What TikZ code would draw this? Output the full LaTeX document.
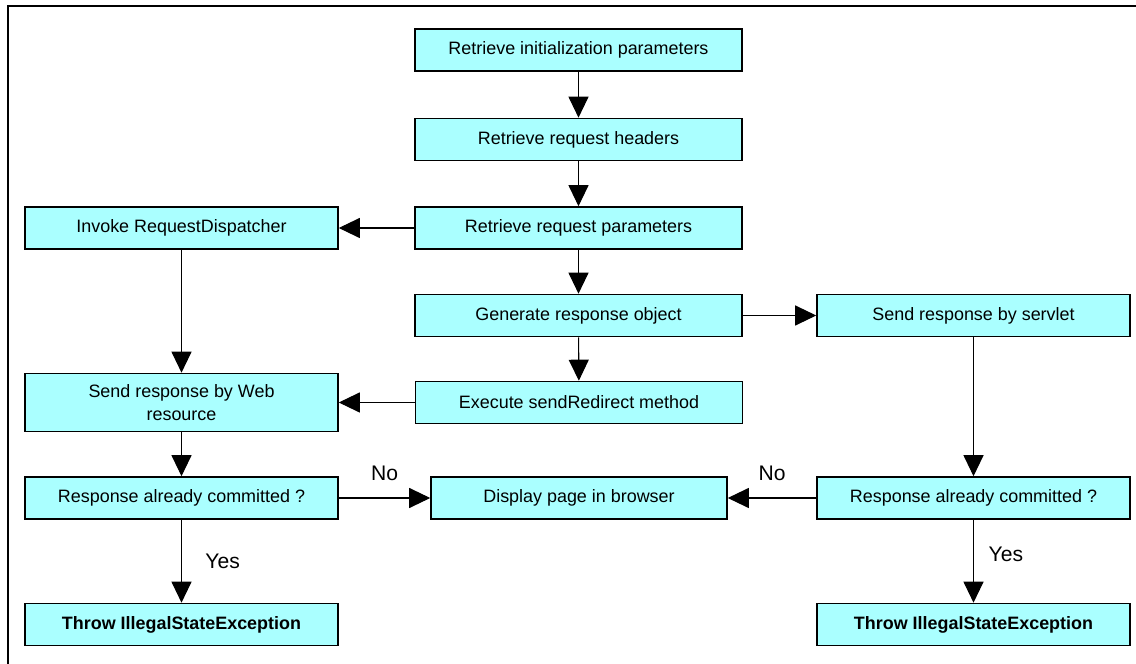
\documentclass[tikz,border=0pt]{standalone}
\usepackage{fontspec}
\setmainfont{Liberation Sans}
\usepackage{tikz}
\usetikzlibrary{arrows.meta}
\usetikzlibrary{calc}

\definecolor{boxcyan}{HTML}{AAFFFF}

\begin{document}
\begin{tikzpicture}[auto, line width=0.6pt,
        step_style/.style={rectangle,draw=black,line width=0.9pt,fill=boxcyan,minimum width=6.54cm,minimum height=0.84cm,inner sep=2pt,align=center,font=\fontsize{10.2}{13}\selectfont},
        side_style/.style={step_style,minimum width=6.26cm},
        throw_style/.style={side_style,font=\fontsize{10.2}{13}\selectfont\bfseries},
        edge_style/.style={draw=black, line width=0.6pt,-{Triangle[width=0.4cm,length=0.42cm]}},
        answer_style/.style={font=\fontsize{12}{14}\selectfont}]

        \useasboundingbox (0,0) rectangle (22.72,13.28);
        \draw [line width=1.2pt] (0.16,0) -- (0.16,13.16) -- (22.72,13.16);

        \node [step_style](n1) at (11.57,12.28) {Retrieve initialization parameters};

        \node [step_style](n2) at (11.57,10.49) {Retrieve request headers};

        \node [step_style](n3) at (11.57,8.72) {Retrieve request parameters};

        \node [side_style](n4) at (3.63,8.72) {Invoke RequestDispatcher};

        \node [step_style](n5) at (11.57,6.97) {Generate response object};

        \node [side_style](n6) at (19.47,6.97) {Send response by servlet};

        \node [side_style,minimum height=1.16cm](n7) at (3.63,5.23) {Send response by Web\\resource};

        \node [step_style](n8) at (11.58,5.23) {Execute sendRedirect method};

        \node [side_style](n9) at (3.63,3.32) {Response already committed ?};

        \node [step_style,minimum width=5.92cm](n10) at (11.58,3.32) {Display page in browser};

        \node [side_style](n11) at (19.47,3.32) {Response already committed ?};

        \node [throw_style](n12) at (3.63,0.79) {Throw IllegalStateException};

        \node [throw_style](n13) at (19.47,0.79) {Throw IllegalStateException};

        \draw [edge_style] (n1) edge (n2);

        \draw [edge_style] (n2) edge (n3);

        \draw [edge_style] (n3) edge (n4);

        \draw [edge_style] (n3) edge (n5);

        \draw [edge_style] (n4) edge (n7);

        \draw [edge_style] (n5) edge (n6);

        \draw [edge_style] (n5) edge (n8);

        \draw [edge_style] (n8) edge (n7);

        \draw [edge_style] (n6) edge (n11);

        \draw [edge_style] (n7) edge (n9);

        \draw [edge_style] (n9) edge node[answer_style,above=6pt]{No} (n10);

        \draw [edge_style] (n11) edge node[answer_style,above=6pt]{No} (n10);

        \draw [edge_style] (n9) edge node[answer_style,right=10pt]{Yes} (n12);

        \draw [edge_style] (n11) edge node[answer_style,right=5pt,yshift=4pt]{Yes} (n13);

        \end{tikzpicture}
\end{document}
